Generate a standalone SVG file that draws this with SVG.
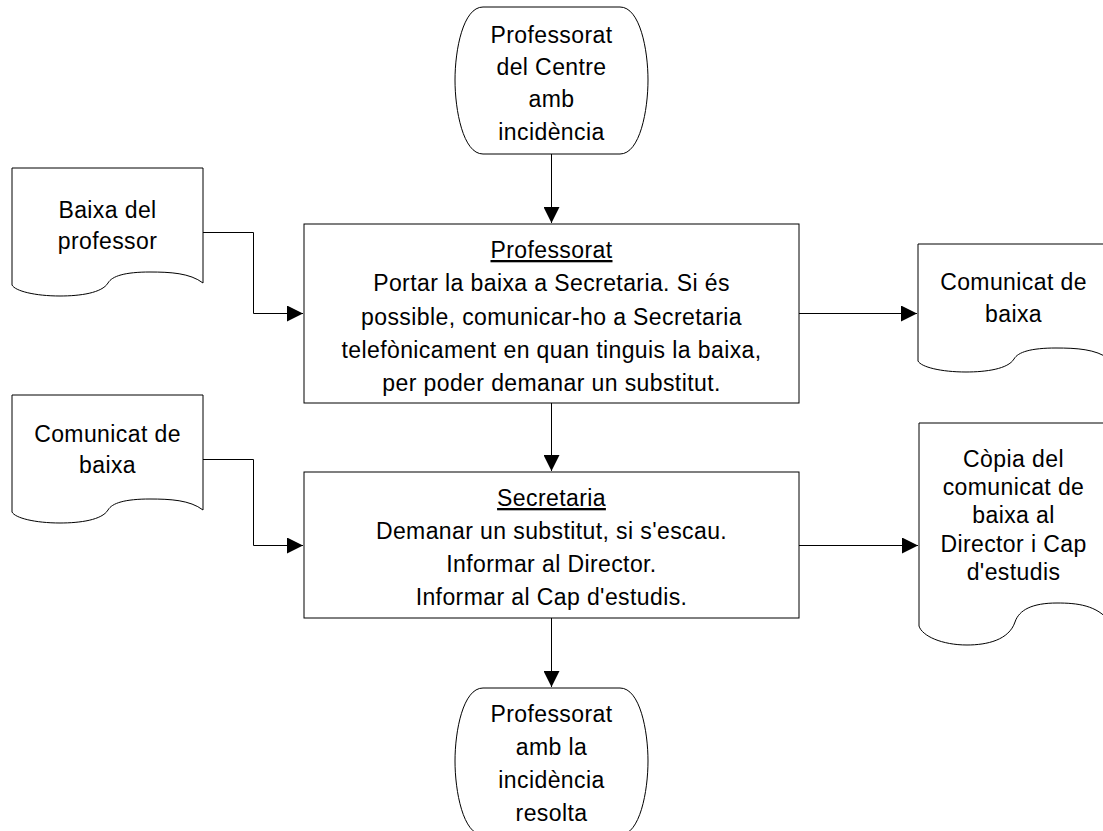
<svg xmlns="http://www.w3.org/2000/svg" width="1103" height="831" viewBox="0 0 1103 831">
<style>
  .shape { fill: #ffffff; stroke: #000000; stroke-width: 1; }
  .conn { fill: none; stroke: #000000; stroke-width: 1; }
  text { font-family: "Liberation Sans", Arial, sans-serif; font-size: 23px; letter-spacing: 0.4px; fill: #000000; text-anchor: middle; }
  .u { text-decoration: underline; }
</style>
<defs>
  <marker id="arrow" markerUnits="userSpaceOnUse" markerWidth="16" markerHeight="16" refX="16" refY="8" orient="auto" viewBox="0 0 16 16">
    <path d="M0,0 L16,8 L0,16 Z" fill="#000000"/>
  </marker>
</defs>
<rect x="0" y="0" width="1103" height="831" fill="#ffffff"/>

<g id="connectors">
  <path class="conn" d="M551.5,154 V223" marker-end="url(#arrow)"/>
  <path class="conn" d="M551.5,403 V471" marker-end="url(#arrow)"/>
  <path class="conn" d="M551.5,618 V687" marker-end="url(#arrow)"/>
  <path class="conn" d="M203,232.5 H253.5 V313.5 H303" marker-end="url(#arrow)"/>
  <path class="conn" d="M203,459.5 H253.5 V545.5 H303" marker-end="url(#arrow)"/>
  <path class="conn" d="M799,313.5 H917" marker-end="url(#arrow)"/>
  <path class="conn" d="M799,545.5 H918" marker-end="url(#arrow)"/>
</g>

<g id="start">
  <path class="shape" d="M483,7 H620 C640,7 648,50 648,80 C648,110 640,154 620,154 H483 C463,154 455,110 455,80 C455,50 463,7 483,7 Z"/>
  <text x="551.5" y="43">Professorat</text>
  <text x="551.5" y="75">del Centre</text>
  <text x="551.5" y="107">amb</text>
  <text x="551.5" y="140">incidència</text>
</g>

<g id="doc-baixa">
  <path class="shape" d="M12,168 H203 V283 C190,273 170,272 150,272 C125,272 112,276 108,283 C102,293 80,296 60,296 C35,296 15,291 12,285 Z"/>
  <text x="107.5" y="218">Baixa del</text>
  <text x="107.5" y="249">professor</text>
</g>

<g id="proc-professorat">
  <rect class="shape" x="304" y="224" width="495" height="179"/>
  <text x="551.5" y="258" class="u">Professorat</text>
  <text x="551.5" y="291">Portar la baixa a Secretaria. Si és</text>
  <text x="551.5" y="325">possible, comunicar-ho a Secretaria</text>
  <text x="551.5" y="358">telefònicament en quan tinguis la baixa,</text>
  <text x="551.5" y="391">per poder demanar un substitut.</text>
</g>

<g id="doc-comunicat-out">
  <path class="shape" d="M918,244 H1109 V359 C1096,349 1076,348 1056,348 C1031,348 1018,352 1014,359 C1008,369 986,372 966,372 C941,372 921,367 918,361 Z"/>
  <text x="1013.5" y="290">Comunicat de</text>
  <text x="1013.5" y="322">baixa</text>
</g>

<g id="doc-comunicat-in">
  <path class="shape" d="M12,395 H203 V510 C190,500 170,499 150,499 C125,499 112,503 108,510 C102,520 80,523 60,523 C35,523 15,518 12,512 Z"/>
  <text x="107.5" y="442">Comunicat de</text>
  <text x="107.5" y="473">baixa</text>
</g>

<g id="proc-secretaria">
  <rect class="shape" x="304" y="472" width="495" height="146"/>
  <text x="551.5" y="506" class="u">Secretaria</text>
  <text x="551.5" y="539">Demanar un substitut, si s'escau.</text>
  <text x="551.5" y="572">Informar al Director.</text>
  <text x="551.5" y="605">Informar al Cap d'estudis.</text>
</g>

<g id="doc-copia">
  <path class="shape" d="M919,423 H1110 V622 C1097,605 1077,603 1057,603 C1032,603 1019,610 1015,622 C1009,640 987,645 967,645 C942,645 922,636 919,626 Z"/>
  <text x="1013.5" y="467">Còpia del</text>
  <text x="1013.5" y="495">comunicat de</text>
  <text x="1013.5" y="523">baixa al</text>
  <text x="1013.5" y="552">Director i Cap</text>
  <text x="1013.5" y="580">d'estudis</text>
</g>

<g id="end">
  <path class="shape" d="M483,688 H620 C640,688 648,731 648,761 C648,791 640,835 620,835 H483 C463,835 455,791 455,761 C455,731 463,688 483,688 Z"/>
  <text x="551.5" y="722">Professorat</text>
  <text x="551.5" y="755">amb la</text>
  <text x="551.5" y="788">incidència</text>
  <text x="551.5" y="821">resolta</text>
</g>
</svg>
